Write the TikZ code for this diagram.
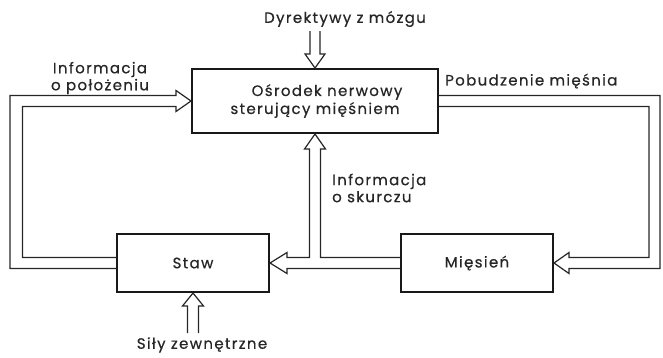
\documentclass[tikz,border=0pt]{standalone}
\usepackage{fontspec}
\setmainfont{Poppins}[LetterSpace=9,FakeBold=0.6]
\usetikzlibrary{calc}
\begin{document}
\begin{tikzpicture}[x=1pt,y=-1pt,
  box/.style={draw=black!90, line width=2pt, rectangle, align=center, inner sep=0pt},
  ln/.style={draw=black!85, line width=1.2pt, line join=miter},
  lbl/.style={font=\fontsize{15}{17}\selectfont, text=black!85, inner sep=0pt, align=center}]
\useasboundingbox (0,0) rectangle (663,357);
% boxes
\node[box, lbl, minimum width=246pt, minimum height=64pt] (C) at (315,101) {\hspace*{24pt}Ośrodek nerwowy\\[1pt]sterujący mięśniem};
\node[box, lbl, minimum width=152pt, minimum height=58pt] (S) at (193,263) {Staw};
\node[box, lbl, minimum width=152pt, minimum height=58pt] (M) at (477,263) {Mięsień};
% labels
\node[lbl] (D) at (345,19) {Dyrektywy z mózgu};
\node[lbl] (IP) at (100,78) {Informacja\\o położeniu};
\node[lbl, anchor=west] (PM) at (445,81) {Pobudzenie mięśnia};
\node[lbl, align=left, anchor=west] (IS) at (332,188) {Informacja\\o skurczu};
\node[lbl] (SZ) at (202,345) {Siły zewnętrzne};
% top arrow into C
\draw[ln] ($(C.north)+(-5,-37)$) -- ($(C.north)+(-5,-14)$) -- ($(C.north)+(-10,-14)$) -- (C.north)
  -- ($(C.north)+(10,-14)$) -- ($(C.north)+(5,-14)$) -- ($(C.north)+(5,-37)$);
% left loop from S to C
\draw[ln] ($(S.west)+(0,5.5)$) -- (10,268.5) -- (10,95.5) -- ($(C.west)+(-15,-5.5)$)
  -- ($(C.west)+(-15,-10.5)$) -- (C.west) -- ($(C.west)+(-15,10.5)$) -- ($(C.west)+(-15,5.5)$)
  -- (22.5,106.5) -- (22.5,257.5) -- ($(S.west)+(0,-5.5)$);
% right loop from C to M
\draw[ln] ($(C.east)+(0,-5.5)$) -- (660,95.5) -- (660,268.5) -- ($(M.east)+(15,5.5)$)
  -- ($(M.east)+(15,10.5)$) -- (M.east) -- ($(M.east)+(15,-10.5)$) -- ($(M.east)+(15,-5.5)$)
  -- (649,257.5) -- (649,106.5) -- ($(C.east)+(0,5.5)$);
% M to S and branch up to C
\draw[ln] ($(M.west)+(0,5.5)$) -- ($(S.east)+(17,5.5)$) -- ($(S.east)+(17,10.5)$) -- (S.east)
  -- ($(S.east)+(17,-10.5)$) -- ($(S.east)+(17,-5.5)$) -- ($(C.south |- S.east)+(-5.5,-5.5)$)
  -- ($(C.south)+(-5.5,15)$) -- ($(C.south)+(-10.5,15)$) -- (C.south) -- ($(C.south)+(10.5,15)$)
  -- ($(C.south)+(5.5,15)$) -- ($(C.south |- S.east)+(5.5,-5.5)$) -- ($(M.west)+(0,-5.5)$);
% bottom arrow into S
\draw[ln] ($(S.south)+(-5.5,40)$) -- ($(S.south)+(-5.5,13)$) -- ($(S.south)+(-10.5,13)$) -- (S.south)
  -- ($(S.south)+(10.5,13)$) -- ($(S.south)+(5.5,13)$) -- ($(S.south)+(5.5,40)$);
\end{tikzpicture}
\end{document}
